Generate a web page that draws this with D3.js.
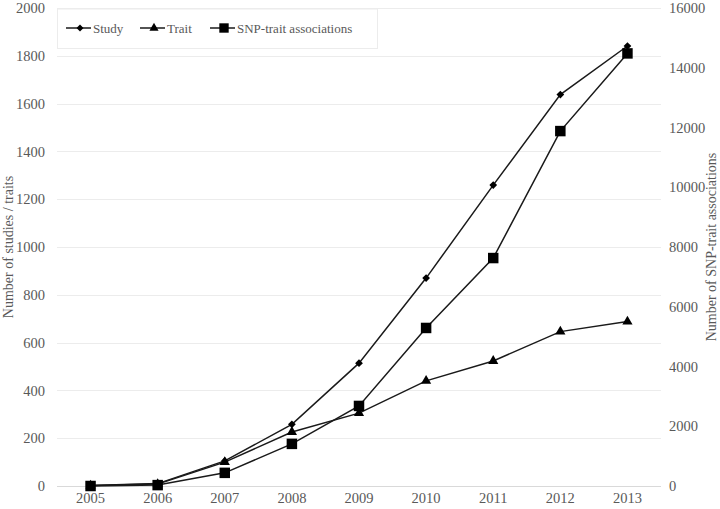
<!DOCTYPE html>
<html>
<head>
<meta charset="utf-8">
<script src="https://cdn.jsdelivr.net/npm/d3@7"></script>
<style>
    body { margin: 0; background: #fff; }
    svg text { font-family: "Liberation Serif", "DejaVu Serif", serif; fill: #595959; }
</style>
</head>
<body>
<div id="chart"></div>
<script>
const YEARS = [2005, 2006, 2007, 2008, 2009, 2010, 2011, 2012, 2013];
const STUDY = [2, 10, 105, 258, 514, 870, 1259, 1638, 1841];
const TRAIT = [2, 8, 100, 226, 305, 440, 523, 646, 688];
const SNP = [0, 30, 440, 1410, 2680, 5290, 7630, 11880, 14480];
const LEFT_TICKS = [0, 200, 400, 600, 800, 1000, 1200, 1400, 1600, 1800, 2000];
const RIGHT_TICKS = [0, 2000, 4000, 6000, 8000, 10000, 12000, 14000, 16000];

const width = 720;
const height = 509;
const margin = { top: 8, right: 59, bottom: 23, left: 57 };
const innerW = width - margin.left - margin.right;
const innerH = height - margin.top - margin.bottom;
const FONT = '"Liberation Serif", "DejaVu Serif", serif';

const svg = d3.select('#chart')
    .append('svg')
    .attr('width', width)
    .attr('height', height);

const g = svg.append('g')
    .attr('transform', 'translate(' + margin.left + ',' + margin.top + ')');

const x = d3.scaleBand().domain(YEARS).range([0, innerW]);
const yLeft = d3.scaleLinear().domain([0, 2000]).range([innerH, 0]);
const yRight = d3.scaleLinear().domain([0, 16000]).range([innerH, 0]);
const cx = (d) => x(d) + x.bandwidth() / 2;

// gridlines
g.append('g')
    .selectAll('line')
    .data(LEFT_TICKS)
    .enter()
    .append('line')
    .attr('x1', 0)
    .attr('x2', innerW)
    .attr('y1', (d) => Math.round(yLeft(d)) + 0.5)
    .attr('y2', (d) => Math.round(yLeft(d)) + 0.5)
    .attr('stroke', (d) => d === 0 ? '#d9d9d9' : '#ececec')
    .attr('stroke-width', 1);

const styleAxis = (sel) => {
    sel.attr('font-family', FONT).attr('font-size', 14.5);
    sel.select('.domain').remove();
    sel.selectAll('text').attr('fill', '#595959');
};

// left axis
g.append('g')
    .call(d3.axisLeft(yLeft).tickValues(LEFT_TICKS).tickSize(0).tickPadding(12).tickFormat(d3.format('d')))
    .call(styleAxis);

// right axis
g.append('g')
    .attr('transform', 'translate(' + innerW + ',0)')
    .call(d3.axisRight(yRight).tickValues(RIGHT_TICKS).tickSize(0).tickPadding(8).tickFormat(d3.format('d')))
    .call(styleAxis);

// x axis
g.append('g')
    .attr('transform', 'translate(0,' + innerH + ')')
    .call(d3.axisBottom(x).tickSize(0).tickPadding(7))
    .call(styleAxis);

// axis titles
svg.append('text')
    .attr('transform', 'translate(13,' + (margin.top + innerH / 2) + ') rotate(-90)')
    .attr('text-anchor', 'middle')
    .style('font-size', '14px')
    .text('Number of studies / traits');

svg.append('text')
    .attr('transform', 'translate(716,' + (margin.top + innerH / 2) + ') rotate(-90)')
    .attr('text-anchor', 'middle')
    .style('font-size', '14px')
    .text('Number of SNP-trait associations');

const series = [
    { name: 'Study', values: STUDY, scale: yLeft, symbol: d3.symbolSquare, size: 30, rotate: 45 },
    { name: 'Trait', values: TRAIT, scale: yLeft, symbol: d3.symbolTriangle, size: 45, rotate: 0 },
    { name: 'SNP-trait associations', values: SNP, scale: yRight, symbol: d3.symbolSquare, size: 110, rotate: 0 }
];

series.forEach((s) => {
    const pts = YEARS.map((yr, i) => [cx(yr), s.scale(s.values[i])]);
    g.append('path')
        .datum(pts)
        .attr('fill', 'none')
        .attr('stroke', '#1a1a1a')
        .attr('stroke-width', 1.5)
        .attr('d', d3.line());
    g.append('g')
        .selectAll('path')
        .data(pts)
        .enter()
        .append('path')
        .attr('transform', (d) => 'translate(' + d[0] + ',' + d[1] + ') rotate(' + s.rotate + ')')
        .attr('d', d3.symbol().type(s.symbol).size(s.size))
        .attr('fill', '#000');
});

// legend
const legend = svg.append('g').attr('transform', 'translate(57,9)');
legend.append('rect')
    .attr('x', 0.5)
    .attr('y', 0)
    .attr('width', 320)
    .attr('height', 39.5)
    .attr('fill', '#fff')
    .attr('stroke', '#ececec');

const legendX = [9, 83, 153];
series.forEach((s, i) => {
    const item = legend.append('g').attr('transform', 'translate(' + legendX[i] + ',19)');
    item.append('line')
        .attr('x1', 0)
        .attr('x2', 25)
        .attr('stroke', '#1a1a1a')
        .attr('stroke-width', 1.5);
    item.append('path')
        .attr('transform', 'translate(14,0) rotate(' + s.rotate + ')')
        .attr('d', d3.symbol().type(s.symbol).size(s.size * 0.8))
        .attr('fill', '#000');
    item.append('text')
        .attr('x', 27)
        .attr('y', 4.5)
        .style('font-size', '13px')
        .text(s.name);
});
</script>
</body>
</html>
